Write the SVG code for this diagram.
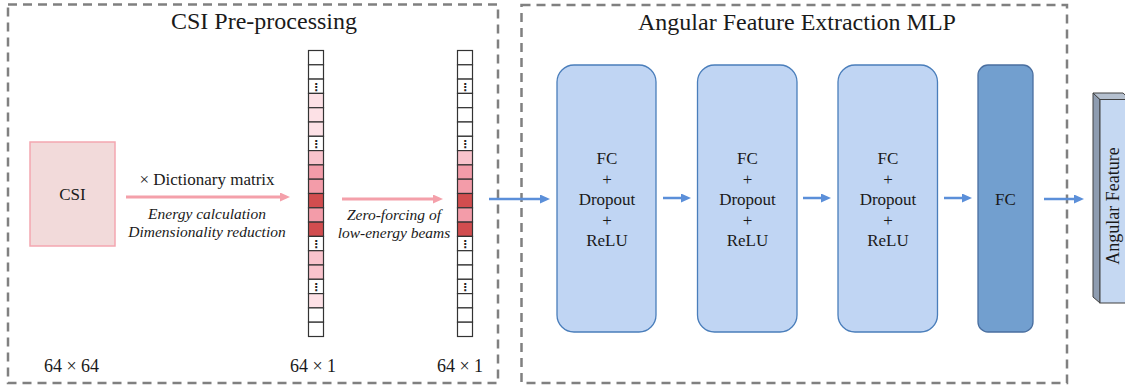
<svg xmlns="http://www.w3.org/2000/svg" width="1125" height="389" viewBox="0 0 1125 389">
<defs>
<style>
.frame{fill:none;stroke:#808080;stroke-width:2.5;stroke-dasharray:9 6}
.title{font-family:"Liberation Serif",serif;font-size:24px;fill:#1a1a1a;text-anchor:middle}
.lbl{font-family:"Liberation Serif",serif;font-size:17px;fill:#1a1a1a;text-anchor:middle}
.dim{font-family:"Liberation Serif",serif;font-size:18px;fill:#1a1a1a;text-anchor:middle}
.it{font-family:"Liberation Serif",serif;font-size:15.5px;font-style:italic;fill:#1a1a1a;text-anchor:middle}
.cell{stroke:#333;stroke-width:1.2}
.w{fill:#ffffff}.l1{fill:#fde1e6}.l2{fill:#f9c3cc}.l3{fill:#f39ca9}.l4{fill:#d24d4f}
.dots{font-family:"DejaVu Sans",sans-serif;font-size:11px;font-weight:bold;fill:#222;text-anchor:middle}
.mlp{fill:#c0d5f3;stroke:#4a7ebb;stroke-width:1.3}
.fc{fill:#729fcf;stroke:#4a6fa0;stroke-width:1.3}
.pk{stroke:#f4a0aa;stroke-width:3;fill:none;marker-end:url(#ap)}
.bl{stroke:#5b8fd9;stroke-width:2.5;fill:none;marker-end:url(#ab)}
</style>
<marker id="ap" markerWidth="11" markerHeight="10" refX="1" refY="4.5" orient="auto" markerUnits="userSpaceOnUse"><path d="M0,0 L10,4.5 L0,9 z" fill="#f4a0aa"/></marker>
<marker id="ab" markerWidth="11" markerHeight="10" refX="1" refY="4.5" orient="auto" markerUnits="userSpaceOnUse"><path d="M0,0 L10,4.5 L0,9 z" fill="#5b8fd9"/></marker>
</defs>

<g id="frame-preprocessing">
<rect class="frame" x="8" y="4.5" width="490" height="378.5"/>
<text class="title" x="264" y="29">CSI Pre-processing</text>
</g>
<g id="frame-mlp">
<rect class="frame" x="521.5" y="5" width="545.5" height="378"/>
<text class="title" x="797" y="30">Angular Feature Extraction MLP</text>
</g>

<g id="csi">
<rect x="30" y="142" width="85" height="104" fill="#f2dada" stroke="#f4a6b0" stroke-width="1.5"/>
<text class="lbl" x="72.5" y="200">CSI</text>
<text class="dim" x="71.5" y="372">64 × 64</text>
</g>

<g id="vector-energy">
<rect class="cell w" x="308.5" y="50.5" width="15" height="14.3"/>
<rect class="cell w" x="308.5" y="64.8" width="15" height="14.3"/>
<rect class="cell w" x="308.5" y="79.1" width="15" height="14.3"/>
<rect class="cell l1" x="308.5" y="93.4" width="15" height="14.3"/>
<rect class="cell l1" x="308.5" y="107.7" width="15" height="14.3"/>
<rect class="cell l1" x="308.5" y="122" width="15" height="14.3"/>
<rect class="cell w" x="308.5" y="136.3" width="15" height="14.3"/>
<rect class="cell l2" x="308.5" y="150.6" width="15" height="14.3"/>
<rect class="cell l3" x="308.5" y="164.9" width="15" height="14.3"/>
<rect class="cell l3" x="308.5" y="179.2" width="15" height="14.3"/>
<rect class="cell l4" x="308.5" y="193.5" width="15" height="14.3"/>
<rect class="cell l3" x="308.5" y="207.8" width="15" height="14.3"/>
<rect class="cell l4" x="308.5" y="222.1" width="15" height="14.3"/>
<rect class="cell w" x="308.5" y="236.4" width="15" height="14.3"/>
<rect class="cell l2" x="308.5" y="250.7" width="15" height="14.3"/>
<rect class="cell l2" x="308.5" y="265" width="15" height="14.3"/>
<rect class="cell w" x="308.5" y="279.3" width="15" height="14.3"/>
<rect class="cell l1" x="308.5" y="293.6" width="15" height="14.3"/>
<rect class="cell w" x="308.5" y="307.9" width="15" height="14.3"/>
<rect class="cell w" x="308.5" y="322.2" width="15" height="14.3"/>
<text class="dots" x="316" y="91">⋮</text>
<text class="dots" x="316" y="148.2">⋮</text>
<text class="dots" x="316" y="248.3">⋮</text>
<text class="dots" x="316" y="291.2">⋮</text>
<text class="dim" x="313" y="372">64 × 1</text>
</g>

<g id="vector-zeroforced">
<rect class="cell w" x="457.5" y="50.5" width="15" height="14.3"/>
<rect class="cell w" x="457.5" y="64.8" width="15" height="14.3"/>
<rect class="cell w" x="457.5" y="79.1" width="15" height="14.3"/>
<rect class="cell w" x="457.5" y="93.4" width="15" height="14.3"/>
<rect class="cell w" x="457.5" y="107.7" width="15" height="14.3"/>
<rect class="cell w" x="457.5" y="122" width="15" height="14.3"/>
<rect class="cell w" x="457.5" y="136.3" width="15" height="14.3"/>
<rect class="cell l2" x="457.5" y="150.6" width="15" height="14.3"/>
<rect class="cell l3" x="457.5" y="164.9" width="15" height="14.3"/>
<rect class="cell l3" x="457.5" y="179.2" width="15" height="14.3"/>
<rect class="cell l4" x="457.5" y="193.5" width="15" height="14.3"/>
<rect class="cell l3" x="457.5" y="207.8" width="15" height="14.3"/>
<rect class="cell l4" x="457.5" y="222.1" width="15" height="14.3"/>
<rect class="cell w" x="457.5" y="236.4" width="15" height="14.3"/>
<rect class="cell w" x="457.5" y="250.7" width="15" height="14.3"/>
<rect class="cell w" x="457.5" y="265" width="15" height="14.3"/>
<rect class="cell w" x="457.5" y="279.3" width="15" height="14.3"/>
<rect class="cell w" x="457.5" y="293.6" width="15" height="14.3"/>
<rect class="cell w" x="457.5" y="307.9" width="15" height="14.3"/>
<rect class="cell w" x="457.5" y="322.2" width="15" height="14.3"/>
<text class="dots" x="465" y="91">⋮</text>
<text class="dots" x="465" y="148.2">⋮</text>
<text class="dots" x="465" y="248.3">⋮</text>
<text class="dots" x="465" y="291.2">⋮</text>
<text class="dim" x="460" y="372">64 × 1</text>
</g>

<g id="mlp1">
<rect class="mlp" x="557" y="65" width="99" height="267" rx="17"/>
<text class="lbl" x="607" y="164">FC</text>
<text class="lbl" x="607" y="185">+</text>
<text class="lbl" x="607" y="205">Dropout</text>
<text class="lbl" x="607" y="226">+</text>
<text class="lbl" x="607" y="246">ReLU</text>
</g>
<g id="mlp2">
<rect class="mlp" x="697.5" y="65" width="99.5" height="267" rx="17"/>
<text class="lbl" x="747.5" y="164">FC</text>
<text class="lbl" x="747.5" y="185">+</text>
<text class="lbl" x="747.5" y="205">Dropout</text>
<text class="lbl" x="747.5" y="226">+</text>
<text class="lbl" x="747.5" y="246">ReLU</text>
</g>
<g id="mlp3">
<rect class="mlp" x="838" y="65" width="99.5" height="267" rx="17"/>
<text class="lbl" x="888" y="164">FC</text>
<text class="lbl" x="888" y="185">+</text>
<text class="lbl" x="888" y="205">Dropout</text>
<text class="lbl" x="888" y="226">+</text>
<text class="lbl" x="888" y="246">ReLU</text>
</g>
<g id="fc-out">
<rect class="fc" x="978" y="65" width="55" height="267" rx="10"/>
<text class="lbl" x="1005.5" y="205">FC</text>
</g>

<g id="angular-feature">
<polygon points="1093,93 1100,99.5 1100,303 1093,297" fill="#8e9cb0" stroke="#404040" stroke-width="1"/>
<polygon points="1093,93 1100,99.5 1130,99.5 1123,93" fill="#b5c0cf" stroke="#404040" stroke-width="1"/>
<rect x="1100" y="99.5" width="30" height="203.5" fill="#c5d8f2" stroke="#404040" stroke-width="1"/>
<text class="dim" transform="translate(1119,206) rotate(-90)">Angular Feature</text>
</g>

<g id="connectors">
<line class="pk" x1="126" y1="197" x2="281" y2="197"/>
<text class="lbl" x="207" y="185">× Dictionary matrix</text>
<text class="it" x="207" y="219">Energy calculation</text>
<text class="it" x="207" y="237">Dimensionality reduction</text>
<line class="pk" x1="342" y1="199" x2="434" y2="199"/>
<text class="it" x="394" y="220">Zero-forcing of</text>
<text class="it" x="394" y="238">low-energy beams</text>
<line class="bl" x1="489" y1="199" x2="541" y2="199"/>
<line class="bl" x1="663" y1="198" x2="682" y2="198"/>
<line class="bl" x1="803" y1="198" x2="822" y2="198"/>
<line class="bl" x1="944" y1="198" x2="963" y2="198"/>
<line class="bl" x1="1044" y1="199" x2="1075" y2="199"/>
</g>
</svg>
